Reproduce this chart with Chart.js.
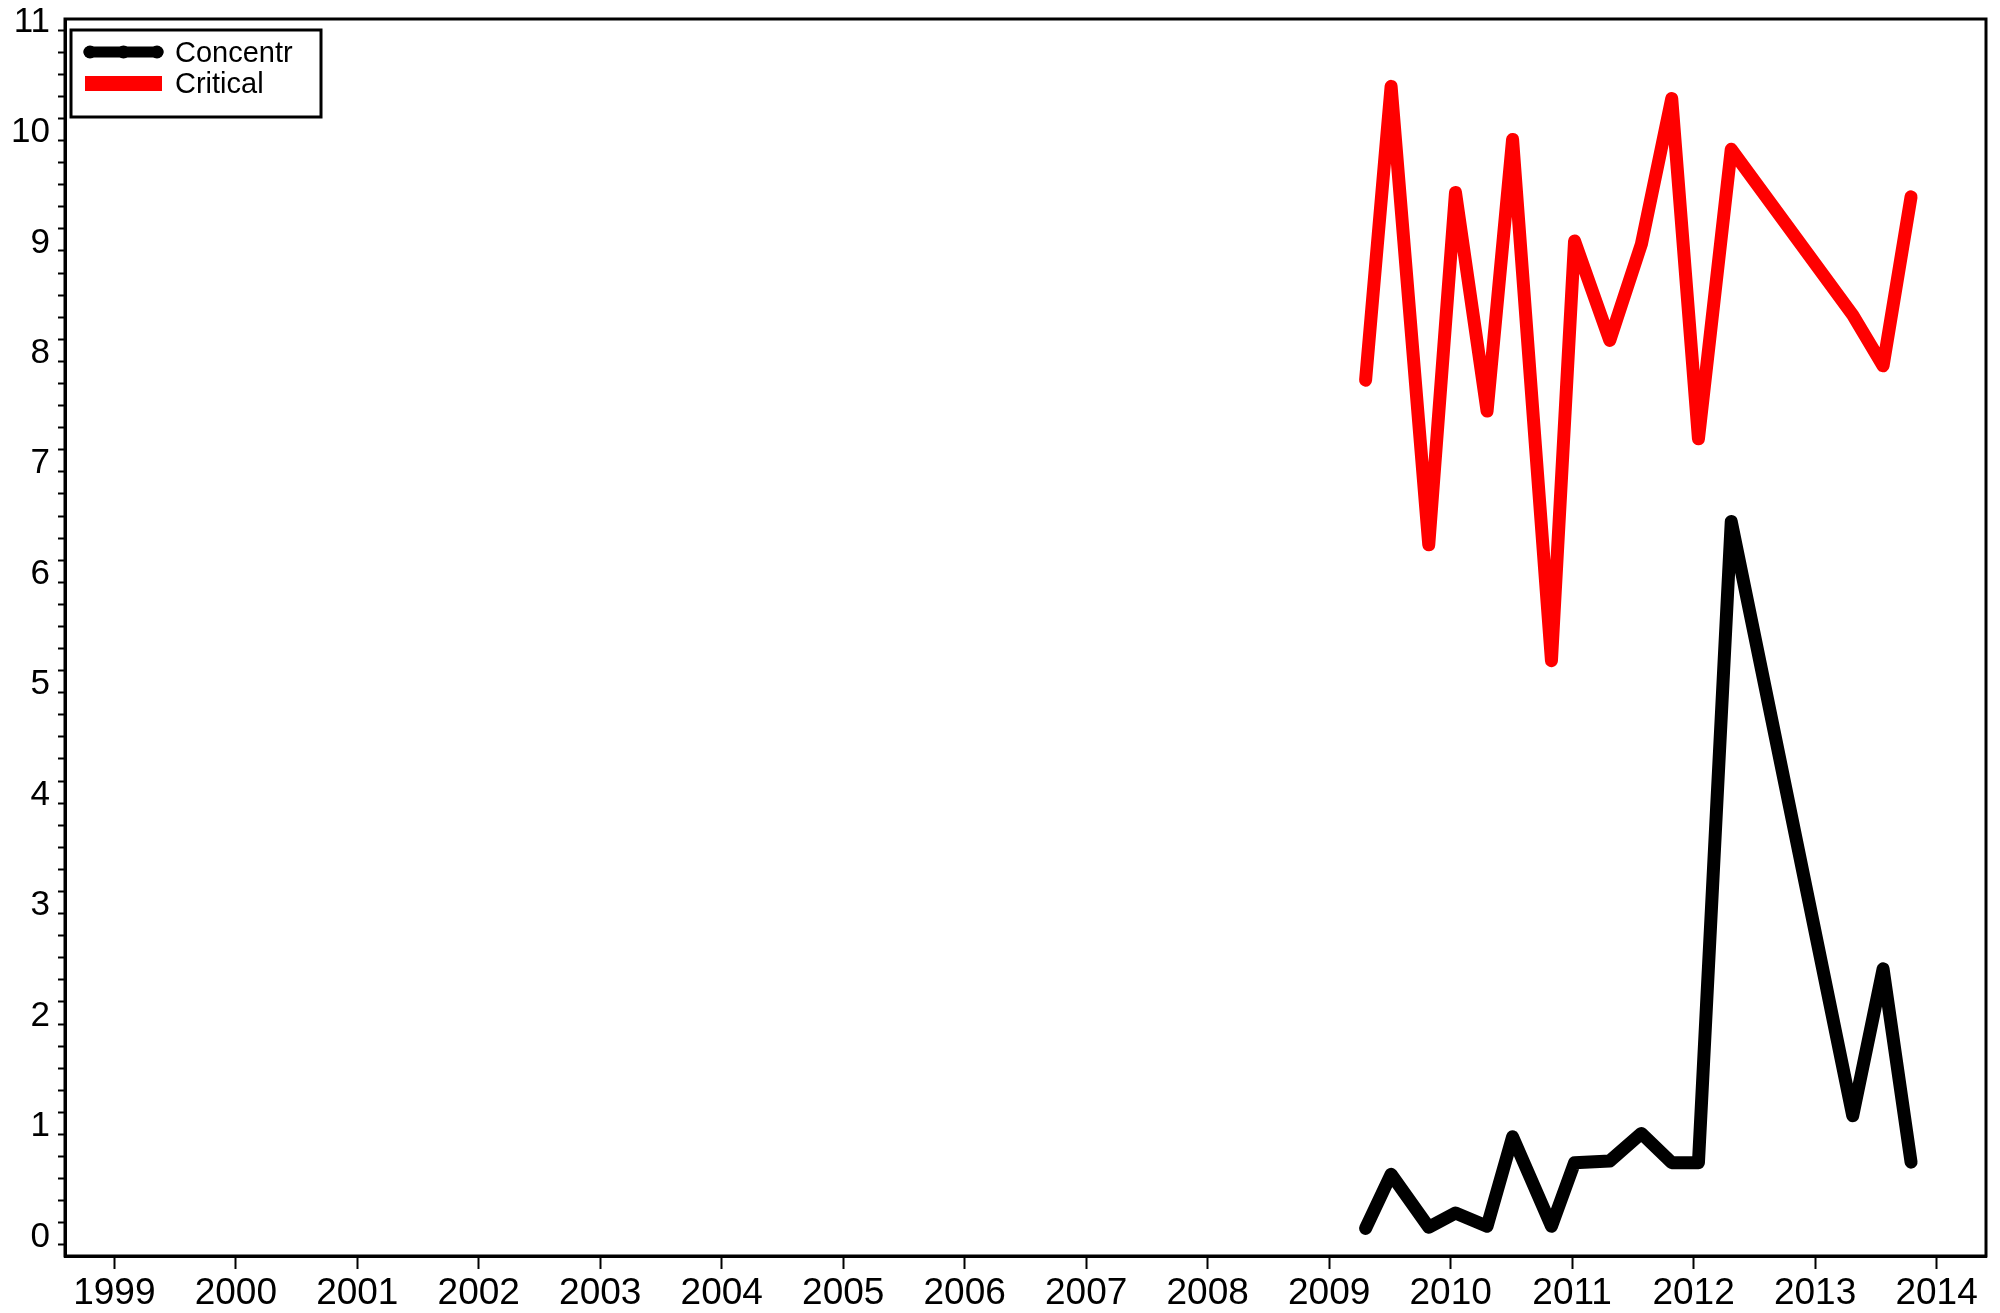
<!DOCTYPE html>
<html><head><meta charset="utf-8">
<script src="https://cdn.jsdelivr.net/npm/chart.js@4.4.1/dist/chart.umd.min.js"></script>
<style>html,body{margin:0;padding:0;background:#fff}#wrap{width:2000px;height:1313px}</style>
</head><body><div id="wrap"><canvas id="c" width="2000" height="1313"></canvas></div>
<script>
// ---- data ----
const dates = [2009.30, 2009.51, 2009.82, 2010.04, 2010.30, 2010.51, 2010.83, 2011.02, 2011.31, 2011.57, 2011.82, 2012.04, 2012.31, 2013.31, 2013.56, 2013.79];
const concentr = [0.15, 0.64, 0.16, 0.29, 0.17, 0.98, 0.17, 0.745, 0.76, 1.01, 0.745, 0.745, 6.55, 1.17, 2.50, 0.75];
const critical = [7.83, 10.49, 6.34, 9.53, 7.55, 10.01, 5.29, 9.09, 8.19, 9.06, 10.38, 7.30, 9.92, 8.42, 7.96, 9.49];
const seriesNames = ['Concentr', 'Critical'];
const seriesColors = ['#000000', '#ff0000'];
const yearTicks = [1999, 2000, 2001, 2002, 2003, 2004, 2005, 2006, 2007, 2008, 2009, 2010, 2011, 2012, 2013, 2014];
const yearLabels = ['1999','2000','2001','2002','2003','2004','2005','2006','2007','2008','2009','2010','2011','2012','2013','2014'];
const yMajorTicks = [0,1,2,3,4,5,6,7,8,9,10,11];
const yLabels = ['0','1','2','3','4','5','6','7','8','9','10','11'];
const yMinorStep = 0.2;

const FONT = "'Liberation Sans', Arial, sans-serif";

const yTickValues = [];
for (let i = 0; i <= Math.round(11 / yMinorStep); i++) yTickValues.push(+(i * yMinorStep).toFixed(4));

const framePlugin = {
  id: 'frame',
  afterDraw(chart) {
    const {ctx, chartArea: a} = chart;
    ctx.save();
    ctx.strokeStyle = '#000';
    ctx.lineWidth = 3;
    ctx.strokeRect(a.left, a.top, a.right - a.left, a.bottom - a.top);
    ctx.restore();
  }
};

const legendPlugin = {
  id: 'boxLegend',
  afterDraw(chart) {
    const ctx = chart.ctx;
    const a = chart.chartArea;
    const bx = a.left + 6, by = a.top + 11, bw = 250, bh = 87;
    ctx.save();
    ctx.fillStyle = '#fff';
    ctx.fillRect(bx, by, bw, bh);
    ctx.strokeStyle = '#000';
    ctx.lineWidth = 3;
    ctx.strokeRect(bx, by, bw, bh);
    const x0 = bx + 14, x1 = bx + 91;
    const yy = by + 22;
    ctx.strokeStyle = seriesColors[0];
    ctx.lineWidth = 11;
    ctx.lineCap = 'round';
    ctx.beginPath(); ctx.moveTo(x0 + 4, yy); ctx.lineTo(x1 - 4, yy); ctx.stroke();
    ctx.fillStyle = seriesColors[0];
    [x0 + 5, (x0 + x1) / 2, x1 - 5].forEach(px => { ctx.beginPath(); ctx.arc(px, yy, 6.5, 0, Math.PI * 2); ctx.fill(); });
    ctx.fillStyle = seriesColors[1];
    ctx.fillRect(x0, by + 46, x1 - x0, 15);
    ctx.fillStyle = '#000';
    ctx.font = '29px ' + FONT;
    ctx.textBaseline = 'alphabetic';
    ctx.textAlign = 'left';
    ctx.fillText(seriesNames[0], bx + 104, by + 32);
    ctx.fillText(seriesNames[1], bx + 104, by + 63);
    ctx.restore();
  }
};

const toPts = arr => dates.map((d, i) => ({x: d, y: arr[i]}));
const lineStyle = {borderWidth: 13, pointRadius: 0, tension: 0, borderCapStyle: 'round', borderJoinStyle: 'round', fill: false};

new Chart(document.getElementById('c'), {
  type: 'line',
  data: {
    datasets: [
      Object.assign({label: seriesNames[0], data: toPts(concentr), borderColor: seriesColors[0], backgroundColor: seriesColors[0]}, lineStyle),
      Object.assign({label: seriesNames[1], data: toPts(critical), borderColor: seriesColors[1], backgroundColor: seriesColors[1]}, lineStyle)
    ]
  },
  options: {
    responsive: false,
    devicePixelRatio: 1,
    animation: false,
    events: [],
    layout: {padding: {top: 19, right: 14, left: 0, bottom: 0}},
    plugins: {legend: {display: false}, tooltip: {enabled: false}},
    scales: {
      x: {
        type: 'linear',
        position: 'bottom',
        min: 1998.594,
        max: 2014.407,
        afterBuildTicks: s => { s.ticks = yearTicks.map(v => ({value: v})); },
        afterFit: s => { s.height = 57; s.paddingLeft = 0; s.paddingRight = 0; },
        ticks: {
          autoSkip: false, maxRotation: 0, minRotation: 0, padding: 3,
          color: '#000', font: {family: FONT, size: 37},
          callback: v => { const i = yearTicks.indexOf(v); return i >= 0 ? yearLabels[i] : ''; }
        },
        grid: {display: true, drawOnChartArea: false, drawTicks: true, tickLength: 13, tickWidth: 2, tickColor: '#000'},
        border: {display: true, color: '#000', width: 3}
      },
      y: {
        type: 'linear',
        position: 'left',
        min: -0.1,
        max: 11.1,
        afterBuildTicks: s => { s.ticks = yTickValues.map(v => ({value: v})); },
        afterFit: s => { s.width = 65; s.paddingTop = 0; s.paddingBottom = 0; },
        ticks: {
          autoSkip: false, padding: 8, labelOffset: -8,
          color: '#000', font: {family: FONT, size: 35},
          callback: v => {
            const r = Math.round(v);
            if (Math.abs(v - r) > 1e-6) return '';
            const i = yMajorTicks.indexOf(r);
            return i >= 0 ? yLabels[i] : '';
          }
        },
        grid: {display: true, drawOnChartArea: false, drawTicks: true, tickLength: 7, tickWidth: 2, tickColor: '#000'},
        border: {display: true, color: '#000', width: 3}
      }
    }
  },
  plugins: [framePlugin, legendPlugin]
});
</script>
</body></html>
